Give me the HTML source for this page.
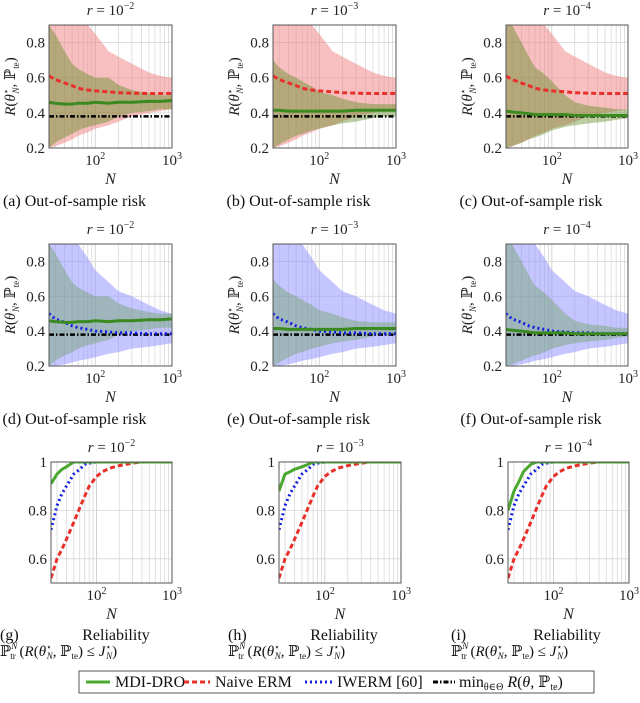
<!DOCTYPE html>
<html><head><meta charset="utf-8"><style>
body{margin:0;background:#fff;width:640px;height:703px;overflow:hidden;font-family:"Liberation Serif",serif}
svg{display:block}
svg text{font-family:"Liberation Serif","DejaVu Serif",serif}
</style></head><body>
<svg id="fig" width="640" height="703" viewBox="0 0 640 703" xmlns="http://www.w3.org/2000/svg"></svg>
<script>
// ---- data ----
const riskN = [25,30,40,50,60,80,100,150,200,300,500,700,1000];
const minRisk = 0.38;
// ERM (row 1)
const ermMean = [0.61,0.59,0.57,0.555,0.54,0.53,0.525,0.52,0.515,0.512,0.51,0.51,0.51];
const ermUp   = [0.95,0.95,0.95,0.95,0.92,0.9,0.85,0.75,0.72,0.68,0.63,0.61,0.6];
const ermLo   = [0.2,0.21,0.23,0.25,0.27,0.29,0.31,0.33,0.35,0.38,0.4,0.41,0.42];
// MDI-DRO row 1
const mdiMeanA = [0.46,0.455,0.45,0.45,0.455,0.455,0.46,0.455,0.46,0.46,0.465,0.465,0.47];
const mdiUpA   = [0.9,0.85,0.75,0.68,0.65,0.62,0.6,0.6,0.56,0.53,0.51,0.5,0.5];
const mdiLoA   = [0.2,0.23,0.26,0.28,0.3,0.32,0.33,0.35,0.38,0.4,0.41,0.42,0.42];
const mdiMeanB = [0.415,0.415,0.41,0.41,0.41,0.41,0.41,0.41,0.41,0.415,0.415,0.415,0.415];
const mdiUpB   = [0.7,0.66,0.62,0.6,0.58,0.55,0.52,0.5,0.48,0.46,0.45,0.45,0.45];
const mdiLoB   = [0.2,0.22,0.25,0.27,0.28,0.3,0.31,0.33,0.34,0.35,0.37,0.38,0.38];
const mdiMeanC = [0.41,0.405,0.4,0.395,0.39,0.39,0.39,0.39,0.385,0.385,0.385,0.385,0.385];
const mdiUpC   = [0.95,0.9,0.8,0.72,0.66,0.62,0.58,0.5,0.46,0.44,0.43,0.42,0.42];
const mdiLoC   = [0.2,0.21,0.23,0.25,0.26,0.28,0.3,0.32,0.33,0.34,0.35,0.36,0.37];
// IWERM (row 2)
const iwMean = [0.5,0.47,0.45,0.43,0.42,0.41,0.4,0.395,0.39,0.39,0.385,0.385,0.385];
const iwUp   = [0.95,0.95,0.95,0.92,0.9,0.82,0.75,0.68,0.63,0.6,0.55,0.52,0.5];
const iwLo   = [0.2,0.2,0.21,0.22,0.23,0.24,0.25,0.27,0.28,0.3,0.31,0.32,0.33];
// Reliability (row 3)
const relN = [25,30,35,40,50,60,70,80,100,120,150,200,300,400,1000];
const relMdiG = [0.91,0.95,0.97,0.98,1,1,1,1,1,1,1,1,1,1,1];
const relMdiH = [0.88,0.95,0.96,0.97,0.98,0.99,1,1,1,1,1,1,1,1,1];
const relMdiI = [0.8,0.88,0.92,0.96,0.99,1,1,1,1,1,1,1,1,1,1];
const relIw   = [0.72,0.82,0.87,0.9,0.95,0.97,0.99,0.995,1,1,1,1,1,1,1];
const relErm  = [0.52,0.6,0.64,0.68,0.75,0.81,0.86,0.9,0.94,0.96,0.975,0.985,0.995,1,1];
const riskTicks = [0.2,0.4,0.6,0.8];
const relTicks = [0.6,0.8,1];
const rLabels = ["−2","−3","−4"];
const captions = ["(a)","(b)","(c)","(d)","(e)","(f)"];

const NS="http://www.w3.org/2000/svg";
const svg=document.getElementById('fig');
function el(tag,attrs,parent){const e=document.createElementNS(NS,tag);for(const k in attrs)e.setAttribute(k,attrs[k]);(parent||svg).appendChild(e);return e;}

const colX=[[49,172],[273,396],[506,628]];
const colX3=[[51,172],[279,401],[508,629]];
const rowY=[[25,148],[244,366],[462,583]];

function makeAxes(x0,x1,y0,y1,ymin,ymax){
  const lx=v=>x0+(Math.log10(v)-Math.log10(25))/(3-Math.log10(25))*(x1-x0);
  const ly=v=>y1-(v-ymin)/(ymax-ymin)*(y1-y0);
  return {lx,ly};
}
function pathFrom(xs,ys,ax){return xs.map((n,i)=>(i?'L':'M')+ax.lx(n).toFixed(1)+','+ax.ly(ys[i]).toFixed(1)).join(' ');}
function bandFrom(xs,up,lo,ax,ymax){
  let d=xs.map((n,i)=>(i?'L':'M')+ax.lx(n).toFixed(1)+','+ax.ly(Math.min(up[i],ymax)).toFixed(1)).join(' ');
  for(let i=xs.length-1;i>=0;i--)d+=' L'+ax.lx(xs[i]).toFixed(1)+','+ax.ly(lo[i]).toFixed(1);
  return d+' Z';
}

function drawPanel(r,c){
  const [x0,x1]=r===2?colX3[c]:colX[c]; const [y0,y1]=rowY[r];
  const ymin=r===2?0.5:0.2, ymax=r===2?1.0:0.9;
  const ax=makeAxes(x0,x1,y0,y1,ymin,ymax);
  const g=el('g',{});
  
  
  const clipId='clip'+r+c;
  const cp=el('clipPath',{id:clipId},g); el('rect',{x:x0,y:y0,width:x1-x0,height:y1-y0},cp);
  const grid=el('g',{stroke:'#d8d8d8','stroke-width':0.8},g);
  
  
  for(const dec of [10,100]) for(let k=2;k<=9;k++){const n=dec*k; if(n<25)continue; const x=ax.lx(n); el('line',{x1:x,x2:x,y1:y0,y2:y1},grid);}
  const xx=ax.lx(100); el('line',{x1:xx,x2:xx,y1:y0,y2:y1,stroke:'#c8c8c8'},grid);
  const ticks=r===2?relTicks:riskTicks;
  ticks.forEach(t=>{const y=ax.ly(t); el('line',{x1:x0,x2:x1,y1:y,y2:y},grid);
    const tl=el('text',{x:x0-4,y:y+5,'text-anchor':'end','font-size':15,fill:'#222'},g); tl.textContent=String(t);
     });
  const data=el('g',{'clip-path':'url(#'+clipId+')'},g);
  const mdiSets=[[mdiMeanA,mdiUpA,mdiLoA],[mdiMeanB,mdiUpB,mdiLoB],[mdiMeanC,mdiUpC,mdiLoC]][c];
  if(r<2){
    if(r===0){const b=el('path',{d:bandFrom(riskN,ermUp,ermLo,ax,0.95),fill:'#f08080','fill-opacity':0.5},data);
       }
    else {const b=el('path',{d:bandFrom(riskN,iwUp,iwLo,ax,0.95),fill:'#8c8cff','fill-opacity':0.5},data);
       }
    const mb=el('path',{d:bandFrom(riskN,mdiSets[1],mdiSets[2],ax,0.95),fill:r===0?'#5a8a20':'#5a9a40','fill-opacity':r===0?0.42:0.35},data);
     
    const ml=el('line',{x1:x0,x2:x1,y1:ax.ly(minRisk),y2:ax.ly(minRisk),stroke:'#000','stroke-width':2.5,'stroke-dasharray':'5,2,1.5,2'},data);
     
    if(r===0){const e=el('path',{d:pathFrom(riskN,ermMean,ax),fill:'none',stroke:'#e8302a','stroke-width':3,'stroke-dasharray':'5,3'},data);
       }
    else {const e=el('path',{d:pathFrom(riskN,iwMean,ax),fill:'none',stroke:'#1020e0','stroke-width':3,'stroke-dasharray':'2,3'},data);
       }
    const m=el('path',{d:pathFrom(riskN,mdiSets[0],ax),fill:'none',stroke:'#3a8a20','stroke-width':3},data);
     
  } else {
    const e=el('path',{d:pathFrom(relN,relErm,ax),fill:'none',stroke:'#e8302a','stroke-width':3,'stroke-dasharray':'5,3'},data);
     
    const b=el('path',{d:pathFrom(relN,relIw,ax),fill:'none',stroke:'#1020e0','stroke-width':3,'stroke-dasharray':'2,3'},data);
     
    const m=el('path',{d:pathFrom(relN,[relMdiG,relMdiH,relMdiI][c],ax),fill:'none',stroke:'#4aa830','stroke-width':3},data);
     
  }
  el('rect',{x:x0,y:y0,width:x1-x0,height:y1-y0,fill:'none',stroke:'#555','stroke-width':1},g);
  [[100,'2'],[1000,'3']].forEach(([n,e])=>{const x=ax.lx(n);
    const t=el('text',{x:x,y:y1+17,'text-anchor':'middle','font-size':15,fill:'#222'},g);
    t.innerHTML='10<tspan dy="-6" font-size="10">'+e+'</tspan>';
     });
  const xl=el('text',{x:(x0+x1)/2,y:y1+36,'text-anchor':'middle','font-size':16,'font-style':'italic',fill:'#222'},g);
  xl.textContent='N';  
  const tt=el('text',{x:(x0+x1)/2,y:y0-10,'text-anchor':'middle','font-size':15,fill:'#222'},g);
  tt.innerHTML='<tspan font-style="italic">r</tspan> = 10<tspan dy="-6" font-size="10">'+rLabels[c]+'</tspan>';
   
  if(r<2){
    const yl=el('text',{transform:'translate('+(x0-34)+','+((y0+y1)/2)+') rotate(-90)','text-anchor':'middle','font-size':15,fill:'#222'},g);
    yl.innerHTML='<tspan font-style="italic">R</tspan>(<tspan font-style="italic">θ</tspan><tspan font-size="9" dy="-6">⋆</tspan><tspan font-size="9" font-style="italic" dx="-5" dy="10">N</tspan><tspan dy="-4">, ℙ</tspan><tspan font-size="9" dy="4">te</tspan><tspan dy="-4">)</tspan>';
     
    const cap=el('text',{x:(x0+x1)/2-36,y:y1+58,'text-anchor':'middle','font-size':16,fill:'#111'},g);
    cap.textContent=captions[r*3+c]+' Out-of-sample risk';
     
  } else {
    const bx=[0,228,451][c];
    const c1=el('text',{x:bx,y:640,'font-size':16,fill:'#111'},g); c1.textContent='('+'ghi'[c]+')';
     
    const c2=el('text',{x:bx+116,y:640,'text-anchor':'middle','font-size':16,fill:'#111'},g); c2.textContent='Reliability';
     
    const c3=el('text',{x:bx,y:656,'font-size':15,fill:'#111'},g);
    c3.innerHTML='ℙ<tspan font-size="9" font-style="italic" dy="-7">N</tspan><tspan font-size="9" dx="-7" dy="10">tr</tspan><tspan dy="-3"> (</tspan><tspan font-style="italic">R</tspan>(<tspan font-style="italic">θ</tspan><tspan font-size="9" dy="-6">⋆</tspan><tspan font-size="9" font-style="italic" dx="-5" dy="9">N</tspan><tspan dy="-3">, ℙ</tspan><tspan font-size="9" dy="3">te</tspan><tspan dy="-3">) ≤ </tspan><tspan font-style="italic">J</tspan><tspan font-size="9" dy="-6">⋆</tspan><tspan font-size="9" font-style="italic" dx="-5" dy="9">N</tspan><tspan dy="-3">)</tspan>';
     
  }
}
for(let r=0;r<3;r++)for(let c=0;c<3;c++)drawPanel(r,c);

const lg=el('g',{});


el('rect',{x:79,y:671,width:515,height:22,fill:'#fff',stroke:'#555','stroke-width':1},lg);
const entries=[
 {x1:86,x2:110,tx:115,stroke:'#4aa830',dash:'',label:'MDI-DRO'},
 {x1:184,x2:210,tx:215,stroke:'#e8302a',dash:'5,3',label:'Naive ERM'},
 {x1:305,x2:332,tx:337,stroke:'#1020e0',dash:'2,3',label:'IWERM [60]'},
 {x1:433,x2:455,tx:459,stroke:'#000',dash:'5,2,1.5,2',label:null}
];
entries.forEach(e=>{
  const g=el('g',{},lg);
  
  
  el('line',{x1:e.x1,x2:e.x2,y1:682,y2:682,stroke:e.stroke,'stroke-width':3,'stroke-dasharray':e.dash},g);
  const t=el('text',{x:e.tx,y:687,'font-size':16,fill:'#111'},g);
  if(e.label)t.textContent=e.label;
  else t.innerHTML='min<tspan font-size="10" dy="3">θ∈Θ</tspan><tspan dy="-3"> </tspan><tspan font-style="italic">R</tspan>(<tspan font-style="italic">θ</tspan>, ℙ<tspan font-size="10" dy="3">te</tspan><tspan dy="-3">)</tspan>';
});
</script>
</body></html>
